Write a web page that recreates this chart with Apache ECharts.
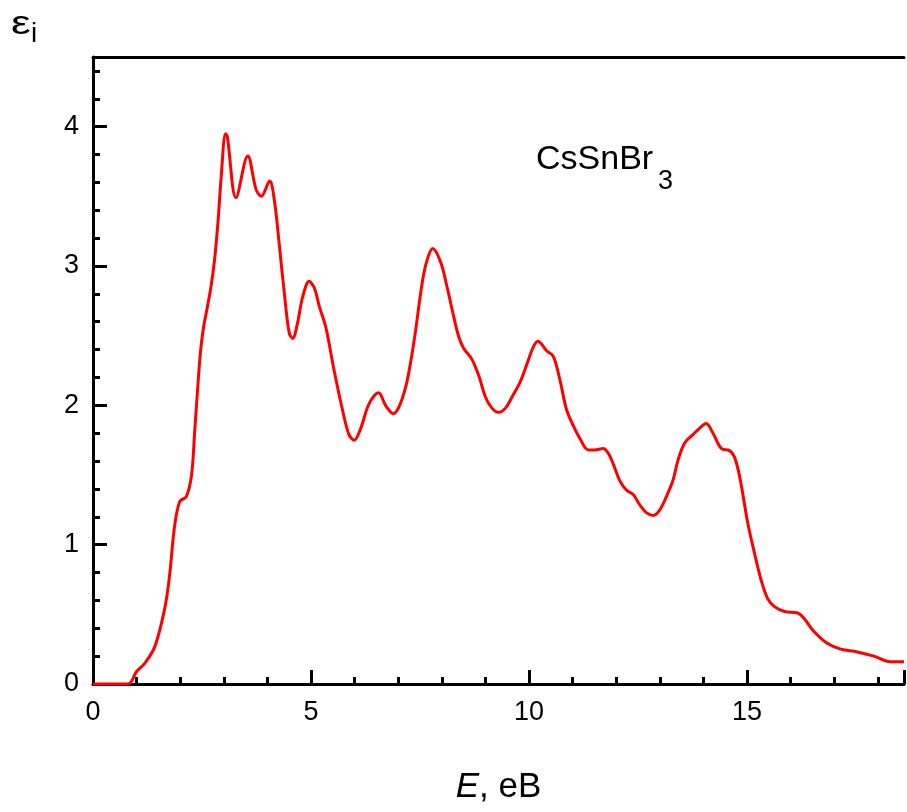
<!DOCTYPE html>
<html>
<head>
<meta charset="utf-8">
<script src="https://cdn.jsdelivr.net/npm/echarts@6/dist/echarts.min.js"></script>
<style>html,body{margin:0;padding:0;background:#fff;overflow:hidden}#c{width:907px;height:812px}</style>
</head>
<body>
<div id="c"></div>
<script>
const energy = [0, 0.8, 1.0, 1.19, 1.42, 1.65, 1.76, 1.87, 1.99, 2.14, 2.26, 2.33, 2.40, 2.47, 2.54, 2.62, 2.71, 2.79, 2.87, 2.94, 3.04, 3.08, 3.28, 3.55, 3.74, 3.86, 4.05, 4.16, 4.27, 4.39, 4.50, 4.58, 4.69, 4.81, 4.96, 5.08, 5.19, 5.34, 5.53, 5.72, 5.87, 5.99, 6.14, 6.33, 6.55, 6.71, 6.89, 7.02, 7.17, 7.28, 7.40, 7.55, 7.66, 7.79, 7.97, 8.12, 8.27, 8.39, 8.50, 8.69, 8.85, 9.00, 9.15, 9.30, 9.46, 9.61, 9.80, 9.99, 10.10, 10.20, 10.41, 10.56, 10.71, 10.86, 11.02, 11.17, 11.36, 11.51, 11.70, 11.82, 11.93, 12.08, 12.24, 12.39, 12.54, 12.69, 12.85, 13.00, 13.15, 13.30, 13.42, 13.57, 13.76, 13.91, 14.06, 14.22, 14.41, 14.60, 14.71, 14.83, 15.02, 15.17, 15.32, 15.47, 15.63, 15.86, 16.16, 16.31, 16.54, 16.85, 17.15, 17.53, 17.91, 18.29, 18.6];
const epsI = [0, 0, 0.09, 0.15, 0.27, 0.55, 0.79, 1.13, 1.31, 1.345, 1.50, 1.80, 2.12, 2.40, 2.57, 2.70, 2.86, 3.05, 3.33, 3.64, 3.95, 3.93, 3.49, 3.79, 3.55, 3.50, 3.61, 3.47, 3.16, 2.80, 2.52, 2.48, 2.59, 2.78, 2.89, 2.84, 2.71, 2.56, 2.25, 1.97, 1.79, 1.75, 1.835, 2.01, 2.09, 2.00, 1.94, 1.99, 2.13, 2.30, 2.54, 2.88, 3.04, 3.125, 3.03, 2.85, 2.64, 2.49, 2.41, 2.33, 2.21, 2.06, 1.98, 1.95, 1.98, 2.06, 2.17, 2.33, 2.42, 2.46, 2.39, 2.35, 2.18, 1.97, 1.85, 1.76, 1.68, 1.68, 1.69, 1.655, 1.58, 1.46, 1.39, 1.36, 1.285, 1.23, 1.21, 1.25, 1.345, 1.46, 1.61, 1.73, 1.79, 1.835, 1.87, 1.80, 1.69, 1.675, 1.63, 1.49, 1.15, 0.94, 0.75, 0.615, 0.555, 0.52, 0.51, 0.47, 0.375, 0.29, 0.25, 0.23, 0.20, 0.16, 0.16];
const xRange = [0, 18.6];
const yRange = [0, 4.5];
const xMajor = 5, xMinor = 1;
const yMajor = 1, yMinor = 0.2;

const points = energy.map((e, i) => [e, epsI[i]]);
const FONT = 'Liberation Sans';
const intLabel = v => (Math.abs(v - Math.round(v)) < 1e-6 ? String(Math.round(v)) : '');

const chart = echarts.init(document.getElementById('c'), null, {renderer: 'canvas', width: 907, height: 812});
chart.setOption({
  animation: false,
  backgroundColor: '#fff',
  grid: {left: 93, width: 814, top: 57, height: 627, containLabel: false},
  xAxis: [
    {type: 'value', position: 'bottom', min: xRange[0], max: xRange[1], interval: xMajor,
     axisLine: {show: true, onZero: false, lineStyle: {color: '#000', width: 3}},
     axisTick: {show: true, inside: true, length: 14, lineStyle: {color: '#000', width: 3}},
     axisLabel: {show: true, color: '#000', fontFamily: FONT, fontSize: 27, margin: 15,
                 formatter: v => (v % xMajor === 0 ? String(v) : '')},
     splitLine: {show: false},
     name: '{i|E}{n|, eB}', nameLocation: 'middle', nameGap: 86,
     nameTextStyle: {rich: {i: {fontFamily: FONT, fontSize: 35, fontStyle: 'italic', color: '#000'},
                            n: {fontFamily: FONT, fontSize: 35, color: '#000'}}}},
    {type: 'value', position: 'bottom', min: xRange[0], max: xRange[1], interval: xMinor,
     axisLine: {show: false, onZero: false},
     axisTick: {show: true, inside: true, length: 7, lineStyle: {color: '#000', width: 3}},
     axisLabel: {show: false}, splitLine: {show: false}},
    {type: 'value', position: 'top', min: xRange[0], max: xRange[1], interval: xMinor,
     axisLine: {show: true, onZero: false, lineStyle: {color: '#000', width: 3}},
     axisTick: {show: false}, axisLabel: {show: false}, splitLine: {show: false}}
  ],
  yAxis: [
    {type: 'value', position: 'left', min: yRange[0], max: yRange[1], interval: yMajor,
     axisLine: {show: true, onZero: false, lineStyle: {color: '#000', width: 3}},
     axisTick: {show: true, inside: true, length: 14, lineStyle: {color: '#000', width: 3}},
     axisLabel: {show: true, color: '#000', fontFamily: FONT, fontSize: 27, margin: 14, formatter: intLabel},
     splitLine: {show: false}},
    {type: 'value', position: 'left', min: yRange[0], max: yRange[1], interval: yMinor,
     axisLine: {show: false, onZero: false},
     axisTick: {show: true, inside: true, length: 7, lineStyle: {color: '#000', width: 3}},
     axisLabel: {show: false}, splitLine: {show: false}}
  ],
  graphic: [
    {type: 'text', left: 11, top: 8, scaleX: 1.3, style: {text: 'ε', fontFamily: FONT, fontSize: 34, fill: '#000'}},
    {type: 'text', left: 31, top: 20, style: {text: 'i', fontFamily: FONT, fontSize: 28, fill: '#000'}},
    {type: 'text', left: 536, top: 143, style: {text: 'CsSnBr', fontFamily: FONT, fontSize: 34, fill: '#000'}},
    {type: 'text', left: 658, top: 168, style: {text: '3', fontFamily: FONT, fontSize: 27, fill: '#000'}}
  ],
  series: [{
    type: 'line', xAxisIndex: 0, yAxisIndex: 0, data: points, smooth: 0.35,
    showSymbol: false, symbol: 'none', clip: false,
    lineStyle: {color: '#ff0000', width: 3}, z: 10
  }]
});
</script>
</body>
</html>
